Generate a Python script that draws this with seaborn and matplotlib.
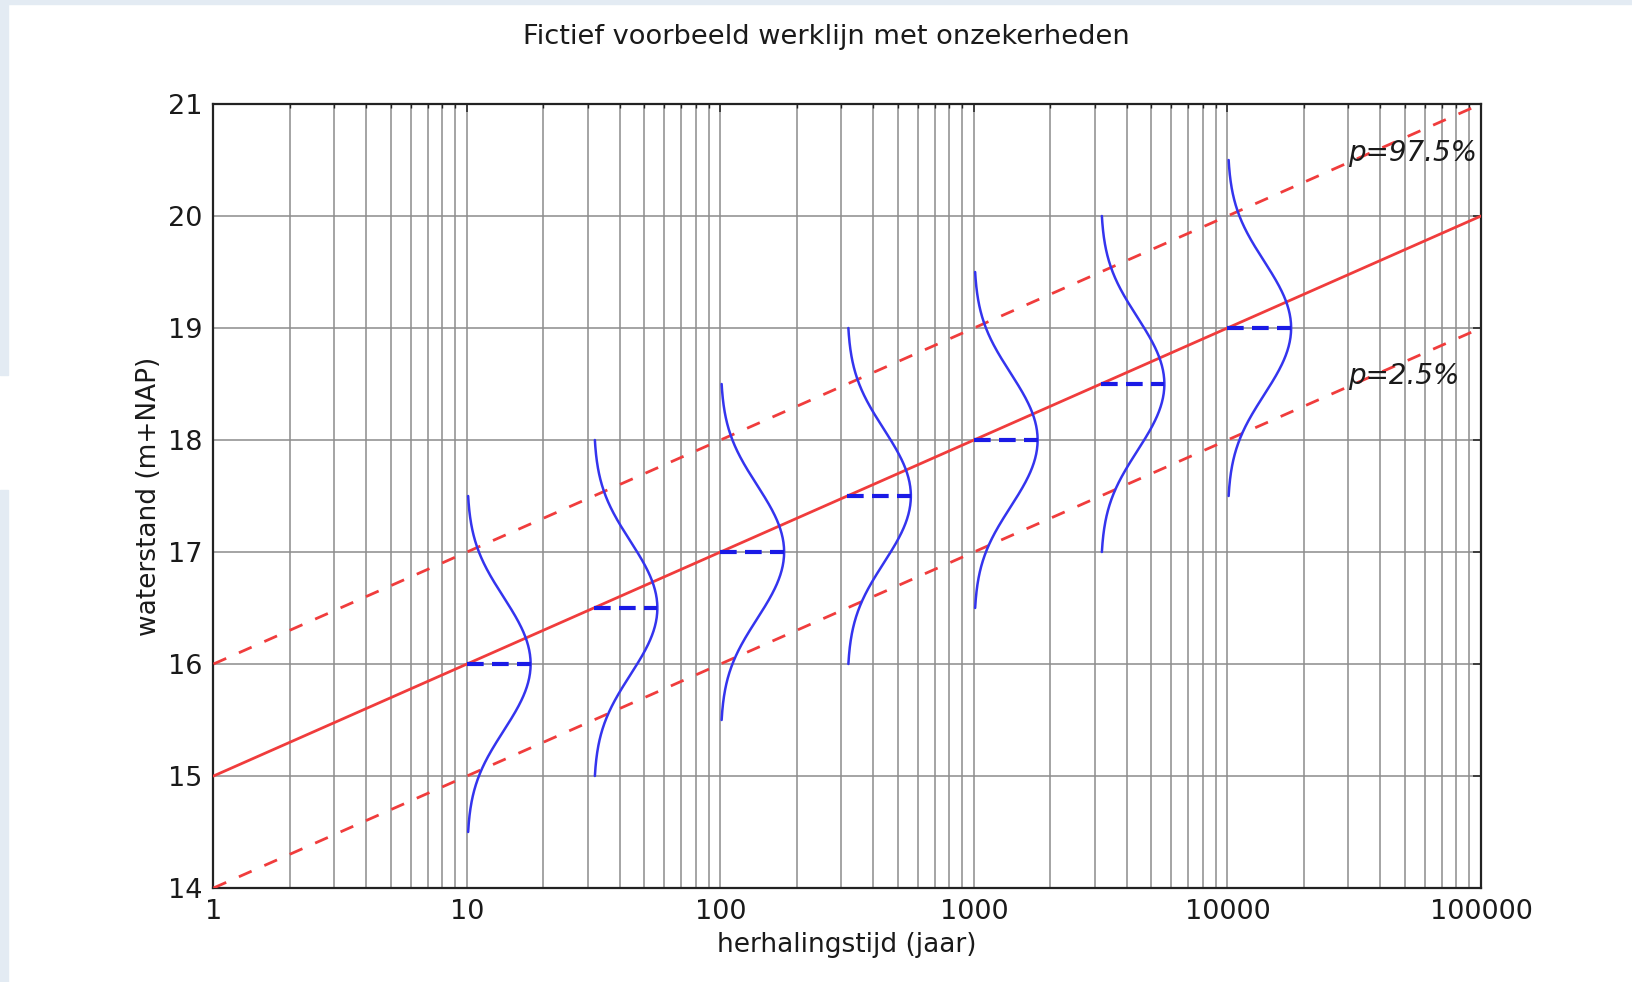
import numpy as np
import pandas as pd
import matplotlib
matplotlib.use("Agg")
import matplotlib.pyplot as plt
from matplotlib.patches import Rectangle
from matplotlib.ticker import FixedLocator, FixedFormatter, LogLocator, NullFormatter
import seaborn as sns

# ---- data ----
line_T = [1, 100000]
median_level = [15.0, 20.0]
upper_level = [16.0, 21.0]   # p = 97.5%
lower_level = [14.0, 19.0]   # p = 2.5%
dist_T = [10, 31.62, 100, 316.2, 1000, 3162, 10000]
dist_mean = [16.0, 16.5, 17.0, 17.5, 18.0, 18.5, 19.0]
dist_sigma = 0.51
dist_halfspan = 1.5
xticks = [1, 10, 100, 1000, 10000, 100000]
xtick_labels = ["1", "10", "100", "1000", "10000", "100000"]
yticks = [14, 15, 16, 17, 18, 19, 20, 21]
annot_text = ["p=97.5%", "p=2.5%"]
annot_T = [30000, 30000]
annot_y = [20.56, 18.57]

sns.set_style("white")
plt.rcParams["font.family"] = ["DejaVu Sans"]

W, H = 1633, 982
fig = plt.figure(figsize=(W / 100, H / 100), dpi=100)
fig.patch.set_facecolor("white")
# screenshot frame strips
band = "#e3ebf3"
fig.patches.append(Rectangle((0, 1 - 4 / H), 1, 4 / H, transform=fig.transFigure, color=band, zorder=-10))
fig.patches.append(Rectangle((0, 0), 8 / W, 1 - 490 / H, transform=fig.transFigure, color=band, zorder=-10))
fig.patches.append(Rectangle((0, 1 - 375 / H), 8 / W, 375 / H, transform=fig.transFigure, color=band, zorder=-10))

ax = fig.add_axes([213.5 / W, 1 - 888 / H, (1481 - 213.5) / W, (888 - 104) / H])

red = "#f03c3c"
df_lines = pd.DataFrame({"T": line_T, "med": median_level, "up": upper_level, "lo": lower_level})
sns.lineplot(data=df_lines, x="T", y="med", ax=ax, color=red, lw=2, zorder=3)
sns.lineplot(data=df_lines, x="T", y="up", ax=ax, color=red, lw=2, ls=(0, (5, 5)), zorder=3)
sns.lineplot(data=df_lines, x="T", y="lo", ax=ax, color=red, lw=2, ls=(0, (5, 5)), zorder=3)

for T, mu in zip(dist_T, dist_mean):
    y = np.linspace(mu - dist_halfspan, mu + dist_halfspan, 300)
    pdf = np.exp(-0.5 * ((y - mu) / dist_sigma) ** 2) / (dist_sigma * np.sqrt(2 * np.pi))
    x = T * (1 + pdf)
    d = pd.DataFrame({"x": x, "y": y})
    sns.lineplot(data=d, x="x", y="y", sort=False, estimator=None, ax=ax,
                 color="#3434ee", lw=1.8, zorder=4)
    pmax = 1 / (dist_sigma * np.sqrt(2 * np.pi))
    dd = pd.DataFrame({"x": [T, T * (1 + pmax)], "y": [mu, mu]})
    sns.lineplot(data=dd, x="x", y="y", estimator=None, ax=ax, color="#1a1ae6", lw=3,
                 ls=(0, (4, 2)), zorder=4)

ax.set_xscale("log")
ax.set_xlim(1, 100000)
ax.set_ylim(14, 21)
ax.xaxis.set_major_locator(FixedLocator(xticks))
ax.xaxis.set_major_formatter(FixedFormatter(xtick_labels))
ax.xaxis.set_minor_locator(LogLocator(base=10, subs=np.arange(2, 10)))
ax.xaxis.set_minor_formatter(NullFormatter())
ax.set_yticks(yticks)
ax.set_yticklabels([str(v) for v in yticks])

ax.grid(True, which="major", axis="both", color="#8c8c8c", lw=1.1)
ax.grid(True, which="minor", axis="x", color="#8c8c8c", lw=1.1)
ax.set_axisbelow(True)

for s in ax.spines.values():
    s.set_color("#222222")
    s.set_linewidth(1.6)
ax.tick_params(axis="both", which="both", direction="in", top=True, right=True,
               color="#222222", labelsize=19.5, labelcolor="#1a1a1a")
ax.tick_params(axis="both", which="major", length=6, width=1.1)
ax.tick_params(axis="x", which="minor", length=3, width=1)
ax.tick_params(axis="x", which="major", pad=8)
ax.tick_params(axis="y", which="major", pad=8)

ax.set_xlabel("herhalingstijd (jaar)", fontsize=19, color="#1a1a1a", va="center")
ax.set_ylabel("waterstand (m+NAP)", fontsize=19, color="#1a1a1a", va="center")
ax.xaxis.set_label_coords(0.5, (888 - 945) / 784)
ax.yaxis.set_label_coords((149 - 213.5) / 1267.5, 0.5)

for t, tx, ty in zip(annot_text, annot_T, annot_y):
    ax.text(tx, ty, t, fontsize=20, style="italic", color="#1a1a1a", ha="left", va="center", zorder=5)

fig.text(826 / W, 1 - 37.5 / H, "Fictief voorbeeld werklijn met onzekerheden",
         fontsize=19.6, ha="center", va="center", color="#1a1a1a")

fig.savefig("out.png", dpi=100)
